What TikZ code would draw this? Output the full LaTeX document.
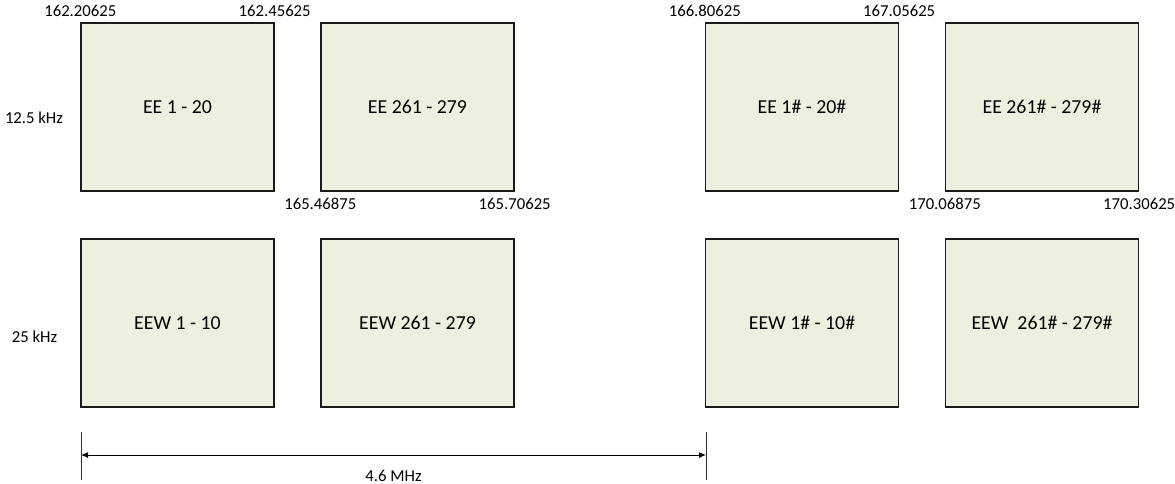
\documentclass[tikz,border=0pt]{standalone}
\usepackage{fontspec}
\setmainfont{Carlito}
\usetikzlibrary{arrows.meta}
\definecolor{boxfill}{HTML}{EBF1DE}
\definecolor{boxline}{HTML}{1A1A1A}
\tikzset{
  band/.style={draw=boxline, line width=1.4pt, fill=boxfill, minimum width=193pt, minimum height=168pt, inner sep=0pt, font=\fontsize{19.8}{24}\selectfont},
  lbl/.style={inner sep=0pt, font=\fontsize{16.7}{20}\selectfont},
  tick/.style={draw=black!80, line width=0.9pt},
  dim/.style={draw=black, line width=1pt, {Latex[length=7pt,width=6pt]}-{Latex[length=7pt,width=6pt]}}
}
\begin{document}
\begin{tikzpicture}[x=1pt,y=-1pt]
\useasboundingbox (0,0) rectangle (1175,483);
% boxes
\node[band] (b1) at (177.5,107) {EE 1 - 20};
\node[band] (b2) at (417.5,107) {EE 261 - 279};
\node[band] (b3) at (802,107) {EE 1\# - 20\#};
\node[band] (b4) at (1042,107) {EE 261\# - 279\#};
\node[band] (c1) at (177.5,323) {EEW 1 - 10};
\node[band] (c2) at (417.5,323) {EEW 261 - 279};
\node[band] (c3) at (802,323) {EEW 1\# - 10\#};
\node[band] (c4) at (1042,323) {EEW\ \ 261\# - 279\#};
% row labels
\node[lbl] (r1) at (34,118) {12.5 kHz};
\node[lbl] (r2) at (34.5,337) {25 kHz};
% frequency labels
\node[lbl] (f1) at ([yshift=11.5pt]b1.north west) {162.20625};
\node[lbl] (f2) at ([yshift=11.5pt]b1.north east) {162.45625};
\node[lbl] (f3) at ([yshift=11.5pt]b3.north west) {166.80625};
\node[lbl] (f4) at ([yshift=11.5pt]b3.north east) {167.05625};
\node[lbl] (g1) at ([yshift=-12pt]b2.south west) {165.46875};
\node[lbl] (g2) at ([yshift=-12pt]b2.south east) {165.70625};
\node[lbl] (g3) at ([yshift=-12pt]b4.south west) {170.06875};
\node[lbl] (g4) at ([yshift=-12pt]b4.south east) {170.30625};
% dimension
\coordinate (t1a) at (81,432);
\coordinate (t1b) at (81,480);
\coordinate (t2a) at (706,432);
\coordinate (t2b) at (706,480);
\coordinate (d1) at (81,455);
\coordinate (d2) at (706,455);
\draw[tick] (t1a) -- (t1b);
\draw[tick] (t2a) -- (t2b);
\draw[dim] (d1) -- (d2);
\node[lbl] (mhz) at (393.5,475.5) {4.6 MHz};
\end{tikzpicture}
\end{document}
